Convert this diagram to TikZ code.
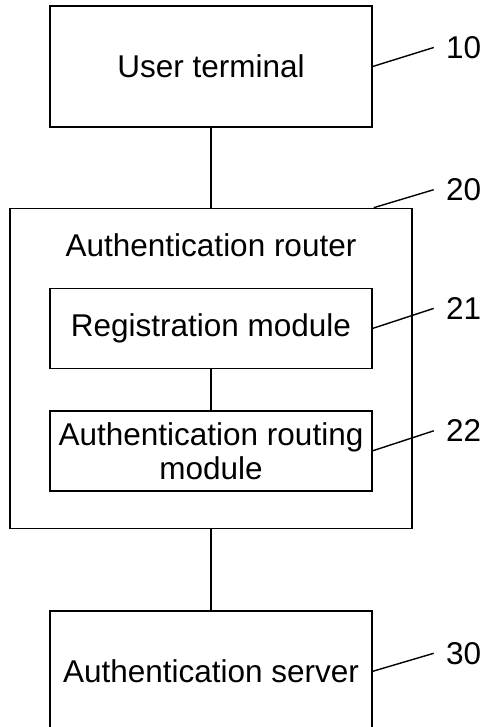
\documentclass[tikz,border=0pt]{standalone}
\usepackage{fontspec}
\setmainfont{Liberation Sans}
\usetikzlibrary{positioning}

\begin{document}
\begin{tikzpicture}[node distance=40pt, line width=0.7pt]
  \tikzset{
    unit/.style={draw, rectangle, minimum height=60.5pt, minimum width=161pt, text centered, font=\fontsize{15.75}{17}\selectfont},
    module/.style={draw, rectangle, minimum height=40pt, minimum width=161pt, align=center, font=\fontsize{15.75}{17}\selectfont},
    router/.style={draw, rectangle, minimum height=160pt, minimum width=201pt},
    refnum/.style={font=\fontsize{15.75}{17}\selectfont}
  }
  \useasboundingbox (0,0) rectangle (242pt,-363.5pt);

  \node[unit] (term) at (105.5pt,-33.25pt) {User terminal};
  \node[router, below=of term] (router) {};
  \node[font=\fontsize{15.75}{17}\selectfont] (title) at ([yshift=-19pt]router.north) {Authentication router};
  \node[module, below=40pt of router.north] (reg) {Registration module};
  \node[module, below=20.5pt of reg] (arm) {Authentication routing\\module};
  \node[unit, below=40.5pt of router] (server) {Authentication server};

  \draw (term) -- (router);
  \draw (reg) -- (arm);
  \draw (router) -- (server);

  % reference numerals
  \draw (term.east) -- ++(30.5pt,9.5pt) coordinate (c10);
  \node[refnum, right=2.5pt of c10] (n10) {10};
  \draw ([xshift=-19.5pt]router.north east) -- ++(30pt,9pt) coordinate (c20);
  \node[refnum, right=2.5pt of c20] (n20) {20};
  \draw (reg.east) -- ++(30.5pt,10pt) coordinate (c21);
  \node[refnum, right=2.5pt of c21] (n21) {21};
  \draw (arm.east) -- ++(30.5pt,10pt) coordinate (c22);
  \node[refnum, right=2.5pt of c22] (n22) {22};
  \draw (server.east) -- ++(30.5pt,9pt) coordinate (c30);
  \node[refnum, right=2.5pt of c30] (n30) {30};
\end{tikzpicture}
\end{document}
